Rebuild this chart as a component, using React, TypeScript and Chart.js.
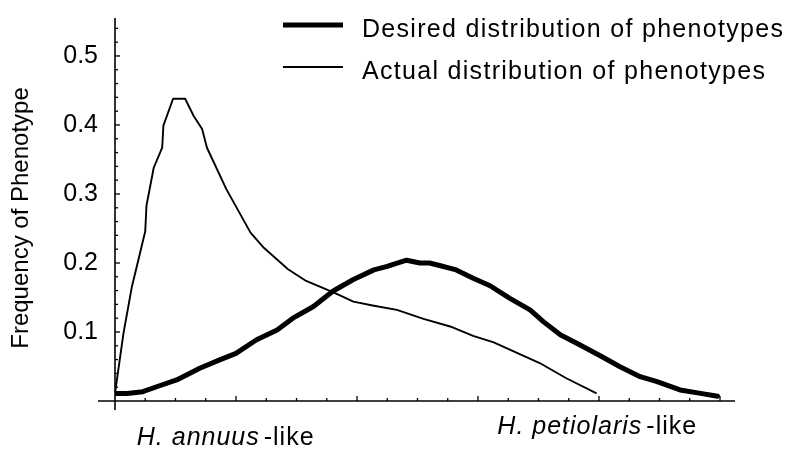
import React, { useEffect, useRef } from "react";
import { Chart, registerables } from "chart.js";

Chart.register(...registerables);

// Phenotype axis (in major-tick units, 0 = H. annuus end) and frequencies
const desiredX = [0.01, 0.1, 0.23, 0.35, 0.51, 0.7, 0.87, 1.0, 1.17, 1.34, 1.47, 1.64, 1.8, 1.97, 2.14, 2.25, 2.3, 2.41, 2.52, 2.6, 2.69, 2.82, 2.96, 3.1, 3.26, 3.43, 3.54, 3.68, 3.84, 4.01, 4.17, 4.34, 4.48, 4.67, 4.84, 4.98];
const desiredY = [0.011, 0.011, 0.0135, 0.021, 0.0305, 0.0475, 0.06, 0.069, 0.0887, 0.103, 0.12, 0.137, 0.159, 0.176, 0.19, 0.195, 0.198, 0.204, 0.2, 0.2, 0.196, 0.19, 0.178, 0.167, 0.149, 0.132, 0.115, 0.096, 0.0815, 0.0655, 0.05, 0.0353, 0.028, 0.016, 0.011, 0.007];

const actualX = [0.0, 0.07, 0.14, 0.18, 0.25, 0.26, 0.32, 0.39, 0.4, 0.48, 0.58, 0.65, 0.72, 0.76, 0.92, 1.12, 1.23, 1.43, 1.58, 1.81, 1.97, 2.14, 2.33, 2.55, 2.77, 2.96, 3.13, 3.51, 3.73, 3.98];
const actualY = [0.011, 0.098, 0.166, 0.195, 0.246, 0.283, 0.338, 0.367, 0.399, 0.438, 0.438, 0.413, 0.394, 0.367, 0.307, 0.244, 0.222, 0.191, 0.174, 0.157, 0.144, 0.138, 0.132, 0.119, 0.108, 0.0945, 0.085, 0.055, 0.033, 0.011];

const seriesLabels = ["Desired distribution of phenotypes", "Actual distribution of phenotypes"];
const yTickValues = [0.1, 0.2, 0.3, 0.4, 0.5];
const xCategoryLabels = [
  { italic: "H. annuus", plain: "-like", at: 0.18, baselineOffset: 44 },
  { italic: "H. petiolaris", plain: "-like", at: 3.16, baselineOffset: 33 },
];
const yTitle = "Frequency of Phenotype";

const Y_MAX = 0.555;
const FONT = "'Liberation Sans', Arial, Helvetica, sans-serif";

const decorPlugin = {
  id: "decor",
  beforeDatasetsDraw(chart: any) {
    const { ctx, chartArea: a, scales } = chart;
    const x = scales.x;
    const y = scales.y;
    const x0 = x.getPixelForValue(0);
    const y0 = y.getPixelForValue(0);
    ctx.save();
    ctx.strokeStyle = "#000";
    ctx.lineWidth = 1.6;
    ctx.beginPath();
    ctx.moveTo(x0 - 17, y0);
    ctx.lineTo(a.right, y0);
    ctx.stroke();
    ctx.beginPath();
    ctx.moveTo(x0, a.top);
    ctx.lineTo(x0, y0 + 9);
    ctx.stroke();
    ctx.lineWidth = 1.3;
    // x ticks
    for (let i = 1; i * 0.25 <= x.max; i++) {
      const v = i * 0.25;
      const px = x.getPixelForValue(v);
      const len = i % 4 === 0 ? 5 : 3;
      ctx.beginPath();
      ctx.moveTo(px, y0);
      ctx.lineTo(px, y0 - len);
      ctx.stroke();
    }
    // y ticks
    for (let i = 1; i * 0.02 <= y.max + 1e-9; i++) {
      const v = i * 0.02;
      const py = y.getPixelForValue(v);
      const major = i % 5 === 0;
      ctx.beginPath();
      ctx.moveTo(x0, py);
      ctx.lineTo(x0 + (major ? 5 : 3), py);
      ctx.stroke();
    }
    ctx.restore();
  },
  afterDraw(chart: any) {
    const { ctx, scales } = chart;
    const x = scales.x;
    const y = scales.y;
    const y0 = y.getPixelForValue(0);
    ctx.save();
    ctx.fillStyle = "#000";
    ctx.strokeStyle = "#000";
    // legend
    const ds = chart.data.datasets;
    const lx = 275;
    ds.forEach((d: any, i: number) => {
      const ly = 17 + i * 42;
      ctx.lineWidth = d.borderWidth;
      ctx.beginPath();
      ctx.moveTo(lx, ly);
      ctx.lineTo(lx + 60, ly);
      ctx.stroke();
      ctx.font = `25px ${FONT}`;
      (ctx as any).letterSpacing = "1.3px";
      ctx.textBaseline = "alphabetic";
      ctx.textAlign = "left";
      ctx.fillText(d.label, lx + 79, ly + 11.5);
    });
    // category labels under x axis
    xCategoryLabels.forEach((c) => {
      const px = x.getPixelForValue(c.at);
      const by = y0 + c.baselineOffset;
      (ctx as any).letterSpacing = "1px";
      ctx.font = `italic 25px ${FONT}`;
      ctx.fillText(c.italic, px, by);
      const w = ctx.measureText(c.italic).width;
      ctx.font = `25px ${FONT}`;
      ctx.fillText(c.plain, px + w + 4, by);
    });
    // y title
    (ctx as any).letterSpacing = "0px";
    ctx.font = `24px ${FONT}`;
    ctx.translate(13, 210);
    ctx.rotate(-Math.PI / 2);
    ctx.textAlign = "center";
    ctx.textBaseline = "middle";
    ctx.fillText(yTitle, 0, 0);
    ctx.restore();
  },
};

export default function App() {
  const ref = useRef<HTMLCanvasElement | null>(null);
  useEffect(() => {
    if (!ref.current) return;
    const chart = new Chart(ref.current, {
      type: "line",
      data: {
        datasets: [
          {
            label: seriesLabels[0],
            data: desiredX.map((v, i) => ({ x: v, y: desiredY[i] })),
            borderColor: "#000",
            borderWidth: 5,
            borderJoinStyle: "round",
            borderCapStyle: "round",
            pointRadius: 0,
            tension: 0,
            fill: false,
          },
          {
            label: seriesLabels[1],
            data: actualX.map((v, i) => ({ x: v, y: actualY[i] })),
            borderColor: "#000",
            borderWidth: 1.9,
            borderJoinStyle: "round",
            pointRadius: 0,
            tension: 0,
            fill: false,
          },
        ],
      },
      options: {
        animation: false,
        responsive: false,
        layout: { padding: { top: 10, right: 57, bottom: 51, left: 0 } },
        plugins: { legend: { display: false }, tooltip: { enabled: false } },
        scales: {
          x: { type: "linear", min: 0, max: 5.124, display: false },
          y: {
            type: "linear",
            min: 0,
            max: Y_MAX,
            grid: { display: false, drawTicks: false },
            border: { display: false },
            afterFit: (s: any) => {
              s.width = 107;
              s.paddingTop = 0;
              s.paddingBottom = 0;
            },
            afterBuildTicks: (s: any) => {
              s.ticks = [0, ...yTickValues, Y_MAX].map((v) => ({ value: v }));
            },
            ticks: {
              padding: 17,
              color: "#000",
              font: { size: 25, family: FONT },
              callback: (v: any) =>
                yTickValues.some((t) => Math.abs(t - Number(v)) < 1e-9) ? Number(v).toFixed(1) : null,
            },
          },
        },
      },
      plugins: [decorPlugin],
    });
    return () => chart.destroy();
  }, []);
  return (
    <div style={{ width: 784, height: 444 }}>
      <canvas ref={ref} width={784} height={444} style={{ width: 784, height: 444 }} />
    </div>
  );
}
